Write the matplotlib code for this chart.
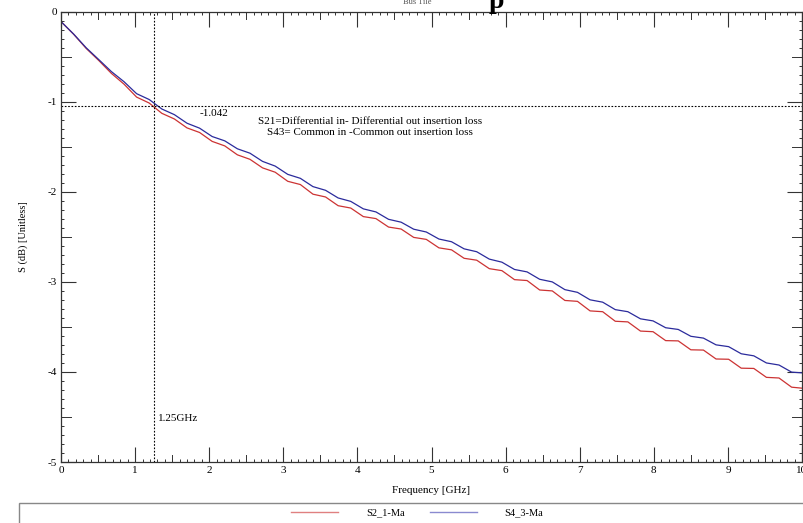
import numpy as np
import matplotlib
matplotlib.use('Agg')
import matplotlib.pyplot as plt
from matplotlib.lines import Line2D
from matplotlib.patches import Rectangle

#frequency points [GHz]
freq_ghz = [0.00, 0.17, 0.34, 0.51, 0.68, 0.85, 1.02, 1.19, 1.36, 1.53,
            1.70, 1.87, 2.04, 2.21, 2.38, 2.55, 2.72, 2.89, 3.06, 3.23,
            3.40, 3.57, 3.74, 3.91, 4.08, 4.25, 4.42, 4.59, 4.76, 4.93,
            5.10, 5.27, 5.44, 5.61, 5.78, 5.95, 6.12, 6.29, 6.46, 6.63,
            6.80, 6.97, 7.14, 7.31, 7.48, 7.65, 7.82, 7.99, 8.16, 8.33,
            8.50, 8.67, 8.84, 9.01, 9.18, 9.35, 9.52, 9.69, 9.86, 10.00]

#S21 differential insertion loss (red)
s21_db = [-0.110, -0.250, -0.408, -0.542, -0.685, -0.804, -0.948, -1.014, -1.128, -1.191,
          -1.290, -1.341, -1.440, -1.490, -1.589, -1.639, -1.734, -1.782, -1.883, -1.919,
          -2.026, -2.057, -2.154, -2.180, -2.275, -2.297, -2.391, -2.413, -2.506, -2.528,
          -2.622, -2.644, -2.738, -2.759, -2.853, -2.875, -2.975, -2.985, -3.090, -3.100,
          -3.206, -3.216, -3.322, -3.331, -3.437, -3.444, -3.546, -3.553, -3.652, -3.655,
          -3.754, -3.757, -3.856, -3.859, -3.958, -3.961, -4.060, -4.067, -4.169, -4.180]

#S43 common mode insertion loss (blue)
s43_db = [-0.110, -0.248, -0.401, -0.532, -0.665, -0.777, -0.910, -0.975, -1.080, -1.143,
          -1.238, -1.293, -1.386, -1.434, -1.522, -1.571, -1.662, -1.714, -1.806, -1.850,
          -1.942, -1.983, -2.068, -2.106, -2.189, -2.223, -2.305, -2.337, -2.415, -2.446,
          -2.524, -2.554, -2.633, -2.665, -2.747, -2.781, -2.862, -2.889, -2.971, -3.000,
          -3.086, -3.116, -3.199, -3.225, -3.308, -3.331, -3.410, -3.433, -3.509, -3.528,
          -3.604, -3.624, -3.699, -3.719, -3.798, -3.821, -3.900, -3.923, -4.002, -4.010]

series_names = ['S2_1-Ma', 'S4_3-Ma']
marker_freq = 1.25
marker_val = -1.042
x_ticks = [0, 1, 2, 3, 4, 5, 6, 7, 8, 9, 10]
y_ticks = [0, -1, -2, -3, -4, -5]

plt.rcParams['font.family'] = ['Liberation Serif', 'DejaVu Serif']
plt.rcParams['axes.unicode_minus'] = False

fig = plt.figure(figsize=(8.04, 5.23), dpi=100)
ax = fig.add_axes([0.0759, 0.1166, 0.9216, 0.861])

red = '#cc3333'
blue = '#2b2b9c'
ax.plot(freq_ghz, s21_db, color=red, lw=0.9)
ax.plot(freq_ghz, s43_db, color=blue, lw=0.9)

#marker lines at 1.25GHz
ax.axvline(marker_freq, color='black', lw=0.8, ls=(0, (1.5, 1.5)))
ax.axhline(marker_val, color='black', lw=0.8, ls=(0, (1.5, 1.5)))
ax.text(2.07, -1.126, '%.3f' % marker_val, fontsize=8, ha='center', va='center')
ax.text(marker_freq + 0.06, -4.52, '1.25GHz', fontsize=8, ha='left', va='center')
ax.text(4.17, -1.222, 'S21=Differential in- Differential out insertion loss',
        fontsize=8, ha='center', va='center')
ax.text(4.17, -1.34, 'S43= Common in -Common out insertion loss',
        fontsize=8, ha='center', va='center')

ax.set_xlim(0, 10)
ax.set_ylim(-5, 0)
ax.set_xticks(x_ticks)
ax.set_yticks(y_ticks)
ax.set_xticks(np.arange(0, 10.01, 0.1), minor=True)
ax.set_yticks(np.arange(-5, 0.01, 0.1), minor=True)
ax.tick_params(which='major', direction='in', length=10.5, width=0.8, color='#333333',
               top=True, right=True, labelsize=8, pad=3)
ax.tick_params(which='minor', direction='in', length=2.4, width=0.7, color='#333333',
               top=True, right=True)

#half unit ticks are a bit longer
for xv in np.arange(0.5, 10, 1.0):
    for y0, y1 in [(0, 0.016), (1, 1 - 0.016)]:
        ax.plot([xv, xv], [y0, y1], transform=ax.get_xaxis_transform(),
                color='#333333', lw=0.7, clip_on=False)
for yv in np.arange(-4.5, 0, 1.0):
    for x0, x1 in [(0, 0.013), (1, 1 - 0.013)]:
        ax.plot([x0, x1], [yv, yv], transform=ax.get_yaxis_transform(),
                color='#333333', lw=0.7, clip_on=False)

for sp in ax.spines.values():
    sp.set_color('#333333')
    sp.set_linewidth(0.9)

ax.set_xlabel('Frequency [GHz]', fontsize=8, labelpad=8)
ax.set_ylabel('S (dB) [Unitless]', fontsize=7.5, labelpad=14)

#cut off header text at the very top
fig.text(0.519, 1 - 3.5 / 523, 'Bus Tile', fontsize=6, ha='center', va='baseline', color='#555555')
fig.text(0.618, 1 - 8 / 523, 'p', fontsize=20, weight='bold', ha='center', va='baseline')

#legend box below the plot
fig.patches.append(Rectangle((19 / 804, -0.05), 1.0, 0.05 + 1 - 503 / 523,
                             transform=fig.transFigure, fill=False,
                             edgecolor='#888888', lw=1.0))
handles = [Line2D([], [], color='#e08080', lw=1.0), Line2D([], [], color='#8a8ad0', lw=1.0)]
fig.legend(handles, series_names, ncol=2, loc='center', bbox_to_anchor=(0.519, 0.019),
           frameon=False, fontsize=7.5, handlelength=4.5, handletextpad=2.7,
           columnspacing=2.4)

fig.savefig('out.png', dpi=100)
